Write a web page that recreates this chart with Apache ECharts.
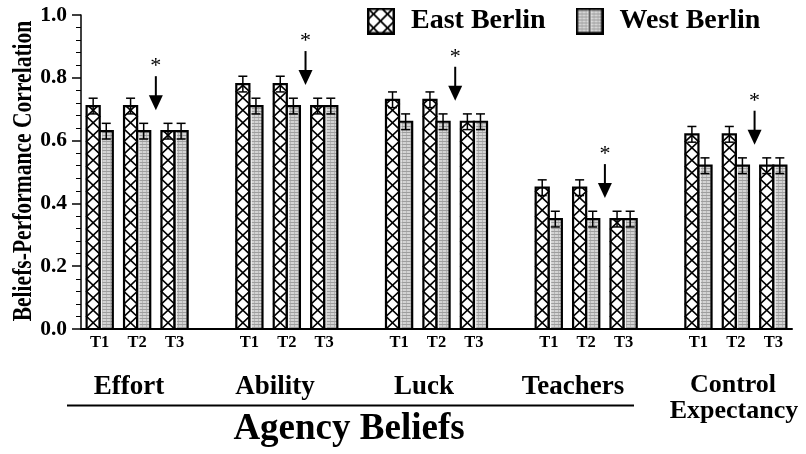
<!DOCTYPE html>
<html><head><meta charset="utf-8">
<script src="https://cdn.jsdelivr.net/npm/echarts@6/dist/echarts.min.js"></script>
<style>html,body{margin:0;padding:0;background:#fff}#c{width:806px;height:454px}</style>
</head><body><div id="c"></div>
<script>
// ---- data ----
const timeLabels = ['T1','T2','T3','','T1','T2','T3','','T1','T2','T3','','T1','T2','T3','','T1','T2','T3'];
const groupNames = ['Effort','Ability','Luck','Teachers'];
const outerGroupName = 'Agency Beliefs';
const controlName = ['Control','Expectancy'];
const seriesNames = ['East Berlin','West Berlin'];
const eastBerlin = [0.71,0.71,0.63,null, 0.78,0.78,0.71,null, 0.73,0.73,0.66,null, 0.45,0.45,0.35,null, 0.62,0.62,0.52];
const westBerlin = [0.63,0.63,0.63,null, 0.71,0.71,0.71,null, 0.66,0.66,0.66,null, 0.35,0.35,0.35,null, 0.52,0.52,0.52];
const errorMargin = 0.025;
const arrowAfterIndex = [1,5,9,13,17];
const yAxisName = 'Beliefs-Performance Correlation';

// ---- styles ----
const SERIF = '"Liberation Serif","Times New Roman",serif';

function makeCanvas(w,h){const c=document.createElement('canvas');c.width=w;c.height=h;return c;}
const greyTex = (function(){
  const c=makeCanvas(4,3), g=c.getContext('2d');
  g.fillStyle='#d4d4d4'; g.fillRect(0,0,4,3);
  g.fillStyle='#9e9e9e'; g.fillRect(0,0,4,1);
  g.fillStyle='#b6b6b6'; g.fillRect(2,1,1,2);
  return c;
})();
function eastIconURL(){
  const w=28,h=27,c=makeCanvas(w,h),g=c.getContext('2d');
  g.fillStyle='#fff'; g.fillRect(0,0,w,h);
  g.save(); g.beginPath(); g.rect(0,0,w,h); g.clip();
  g.strokeStyle='#000'; g.lineWidth=1.8;
  for(let k=-3;k<=3;k++){
    g.beginPath(); g.moveTo(k*14,0); g.lineTo(k*14+h,h); g.stroke();
    g.beginPath(); g.moveTo(k*14+h,0); g.lineTo(k*14,h); g.stroke();
  }
  g.restore();
  g.lineWidth=2.5; g.strokeRect(1.25,1.25,w-2.5,h-2.5);
  return c.toDataURL();
}
function westIconURL(){
  const w=28,h=27,c=makeCanvas(w,h),g=c.getContext('2d');
  g.fillStyle=g.createPattern(greyTex,'repeat'); g.fillRect(0,0,w,h);
  g.fillStyle='#f4f4f4'; g.fillRect(12.5,0,3,h);
  g.strokeStyle='#000'; g.lineWidth=2.5; g.strokeRect(1.25,1.25,w-2.5,h-2.5);
  g.lineWidth=1.2; g.beginPath(); g.moveTo(14,0); g.lineTo(14,h); g.stroke();
  return c.toDataURL();
}

function barRenderer(isEast){
  return function(params, api){
    const idx = api.value(0), v = api.value(1);
    const catW = api.size([1,0])[0];
    const bw = catW*0.35;
    const top = api.coord([idx, v]);
    const base = api.coord([idx, 0]);
    const x0 = isEast ? top[0]-bw : top[0];
    const h = base[1]-top[1];
    const children = [];
    if(isEast){
      children.push({type:'rect',shape:{x:x0,y:top[1],width:bw,height:h},style:{fill:'#fff'}});
      const period = 12.5;
      [0,1].forEach(function(j){
        const pts=[]; let d=0;
        while(true){
          const dd=Math.min(d,h);
          const ph=(dd/period)%2;
          let f=ph<1?ph:2-ph;
          if(j===1) f=1-f;
          pts.push([x0+f*bw, base[1]-dd]);
          if(d>=h) break;
          d+=period;
        }
        children.push({type:'polyline',shape:{points:pts},style:{stroke:'#000',lineWidth:1.7,fill:null}});
      });
    } else {
      children.push({type:'rect',shape:{x:x0,y:top[1],width:bw,height:h},style:{fill:{image:greyTex,repeat:'repeat'}}});
      children.push({type:'line',shape:{x1:x0+1.8,y1:top[1],x2:x0+1.8,y2:base[1]},style:{stroke:'#f2f2f2',lineWidth:1.2}});
    }
    children.push({type:'rect',shape:{x:x0,y:top[1],width:bw,height:h},style:{fill:null,stroke:'#000',lineWidth:2.2}});
    const eT = api.coord([idx, v+errorMargin])[1], eB = api.coord([idx, v-errorMargin])[1];
    const cx = x0+bw/2, cap=4.5;
    children.push({type:'line',shape:{x1:cx,y1:eT,x2:cx,y2:eB},style:{stroke:'#000',lineWidth:1.5}});
    children.push({type:'line',shape:{x1:cx-cap,y1:eT,x2:cx+cap,y2:eT},style:{stroke:'#000',lineWidth:1.5}});
    children.push({type:'line',shape:{x1:cx-cap,y1:eB,x2:cx+cap,y2:eB},style:{stroke:'#000',lineWidth:1.5}});
    return {type:'group',children:children};
  };
}

function arrowRenderer(params, api){
  const i = api.value(0), v = api.value(1);
  const a = api.coord([i, v]), b = api.coord([i+1, v]);
  const x = (a[0]+b[0])/2;
  const tip = a[1]-21;
  return {type:'group',children:[
    {type:'line',shape:{x1:x,y1:tip-34,x2:x,y2:tip-13},style:{stroke:'#000',lineWidth:2}},
    {type:'polygon',shape:{points:[[x-7,tip-15],[x+7,tip-15],[x,tip]]},style:{fill:'#000'}},
    {type:'text',x:x,y:tip-44,style:{text:'*',font:'22px '+SERIF,fill:'#000',align:'center',verticalAlign:'middle'}}
  ]};
}

const eastData=[], westData=[];
eastBerlin.forEach((v,i)=>{ if(v!=null) eastData.push([i,v]); });
westBerlin.forEach((v,i)=>{ if(v!=null) westData.push([i,v]); });
const arrowData = arrowAfterIndex.map(i=>[i, westBerlin[i+1]]);

const chart = echarts.init(document.getElementById('c'), null, {renderer:'canvas'});
const groupCenters = [129, 275, 424, 573];
chart.setOption({
  animation:false,
  backgroundColor:'#fff',
  grid:{left:81,right:14,top:15,bottom:125,containLabel:false},
  legend:{
    left:367, top:7, padding:0, itemGap:30, itemWidth:28, itemHeight:27,
    data:[{name:seriesNames[0],icon:'image://'+eastIconURL()},{name:seriesNames[1],icon:'image://'+westIconURL()}],
    textStyle:{fontFamily:SERIF,fontWeight:'bold',fontSize:28,color:'#000',padding:[0,0,0,11]},
    selectedMode:false
  },
  xAxis:{
    type:'category', data:timeLabels, boundaryGap:true,
    axisLine:{lineStyle:{color:'#000',width:2}},
    axisTick:{show:false},
    axisLabel:{interval:0,margin:5,color:'#000',fontFamily:SERIF,fontWeight:'bold',fontSize:16.5},
    splitLine:{show:false}
  },
  yAxis:{
    type:'value', min:0, max:1, interval:0.2,
    axisLine:{show:true,lineStyle:{color:'#000',width:1.5}},
    axisTick:{show:true,length:9,lineStyle:{color:'#000',width:1.5}},
    minorTick:{show:true,splitNumber:5,length:5,lineStyle:{color:'#000',width:1}},
    axisLabel:{margin:14,color:'#000',fontFamily:SERIF,fontWeight:'bold',fontSize:21.5,formatter:v=>v.toFixed(1)},
    splitLine:{show:false}
  },
  series:[
    {name:seriesNames[0],type:'custom',renderItem:barRenderer(true),data:eastData,encode:{x:0,y:1},z:2},
    {name:seriesNames[1],type:'custom',renderItem:barRenderer(false),data:westData,encode:{x:0,y:1},z:2},
    {name:'arrows',type:'custom',renderItem:arrowRenderer,data:arrowData,encode:{x:0,y:1},z:3}
  ],
  graphic:[
    {type:'text',x:23.5,y:171,rotation:Math.PI/2,scaleX:0.77,scaleY:1,style:{text:yAxisName,font:'bold 28px '+SERIF,fill:'#000',align:'center',verticalAlign:'middle'}},
    ...groupNames.map((n,k)=>({type:'text',x:groupCenters[k],y:387,style:{text:n,font:'bold 27px '+SERIF,fill:'#000',align:'center',verticalAlign:'middle'}})),
    {type:'line',shape:{x1:67,y1:405.5,x2:634,y2:405.5},style:{stroke:'#000',lineWidth:2}},
    {type:'text',x:349,y:429,style:{text:outerGroupName,font:'bold 37px '+SERIF,fill:'#000',align:'center',verticalAlign:'middle'}},
    {type:'text',x:733,y:385,style:{text:controlName[0],font:'bold 26px '+SERIF,fill:'#000',align:'center',verticalAlign:'middle'}},
    {type:'text',x:734,y:411,style:{text:controlName[1],font:'bold 26px '+SERIF,fill:'#000',align:'center',verticalAlign:'middle'}}
  ]
});
</script></body></html>
